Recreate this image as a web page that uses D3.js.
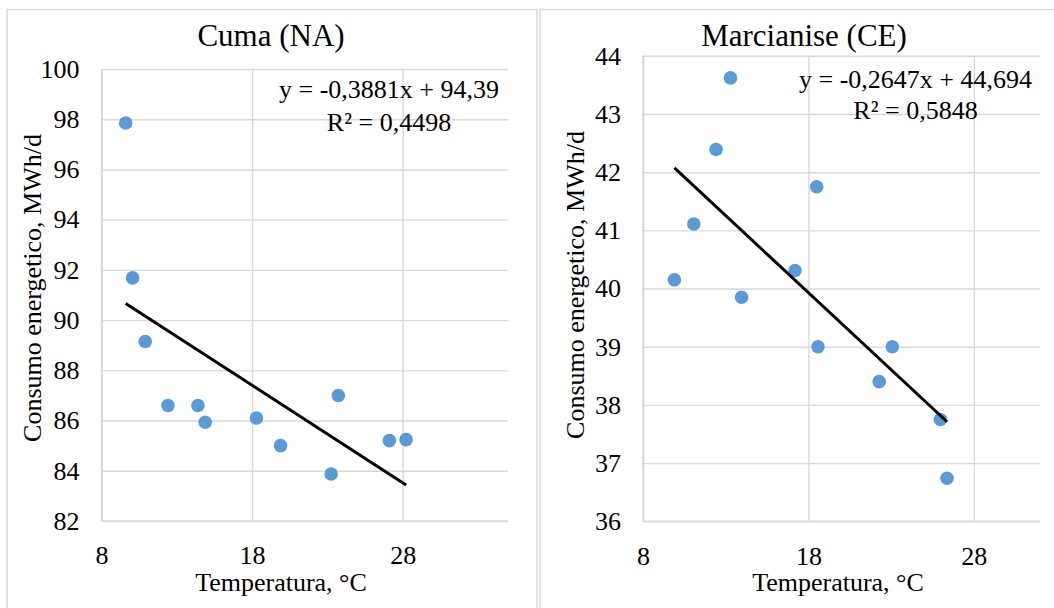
<!DOCTYPE html>
<html>
<head>
<meta charset="utf-8">
<script src="https://cdn.jsdelivr.net/npm/d3@7"></script>
<style>
  html, body { margin: 0; padding: 0; background: #fff; }
  svg { display: block; }
  svg text { font-family: "Liberation Serif", "Times New Roman", serif; }
</style>
</head>
<body>
<div class="chart-container"></div>
<script>
// Cuma (NA)
const cumaTemp = [9.6, 10.06, 10.9, 12.41, 14.4, 14.88, 18.29, 19.89, 23.25, 23.73, 27.12, 28.23];
const cumaCons = [97.85, 91.68, 89.15, 86.6, 86.6, 85.93, 86.1, 85.0, 83.87, 87.0, 85.2, 85.24];
const cumaYTicks = [82, 84, 86, 88, 90, 92, 94, 96, 98, 100];

// Marcianise (CE)
const marciTemp = [9.9, 11.07, 12.42, 13.29, 13.96, 17.19, 18.5, 18.58, 22.28, 23.07, 25.98, 26.38];
const marciCons = [40.15, 41.11, 42.39, 43.62, 39.85, 40.31, 41.75, 39.0, 38.4, 39.0, 37.75, 36.74];
const marciYTicks = [36, 37, 38, 39, 40, 41, 42, 43, 44];

const xTicks = [8, 18, 28];

const width = 1054;
const height = 608;
const font = '"Liberation Serif", "Times New Roman", serif';
const gridColor = '#d9d9d9';
const dotColor = '#5B9BD5';

const svg = d3.select('.chart-container')
  .append('svg')
  .attr('width', width)
  .attr('height', height)
  .attr('font-family', font);

function drawPanel(p) {
  const g = svg.append('g');

  // bordo del grafico
  g.append('rect')
    .attr('x', p.box[0]).attr('y', p.box[1])
    .attr('width', p.box[2]).attr('height', p.box[3])
    .attr('fill', 'none')
    .attr('stroke', gridColor)
    .attr('stroke-width', 1.5);

  const x = d3.scaleLinear().domain(p.xDomain).range([p.left, p.right]);
  const y = d3.scaleLinear().domain(p.yDomain).range([p.bottom, p.top]);

  // griglia orizzontale + etichette asse y
  const yAxis = g.append('g')
    .attr('transform', `translate(${p.left},0)`)
    .call(d3.axisLeft(y).tickValues(p.yTicks).tickSize(-(p.right - p.left)).tickPadding(22).tickFormat(d3.format('d')))
    .attr('font-family', font)
    .attr('font-size', 26);
  yAxis.select('.domain').remove();
  yAxis.selectAll('line').attr('stroke', gridColor).attr('stroke-width', 1.4);
  yAxis.selectAll('text').attr('fill', '#000');

  // griglia verticale + etichette asse x
  const xAxis = g.append('g')
    .attr('transform', `translate(0,${p.bottom})`)
    .call(d3.axisBottom(x).tickValues(xTicks).tickSize(-(p.bottom - p.top)).tickPadding(25))
    .attr('font-family', font)
    .attr('font-size', 26);
  xAxis.select('.domain').remove();
  xAxis.selectAll('line').attr('stroke', gridColor).attr('stroke-width', 1.4);
  xAxis.selectAll('text').attr('fill', '#000');

  // linee degli assi
  g.append('line')
    .attr('x1', p.left).attr('x2', p.right)
    .attr('y1', p.bottom).attr('y2', p.bottom)
    .attr('stroke', gridColor).attr('stroke-width', 1.6);
  g.append('line')
    .attr('x1', p.left).attr('x2', p.left)
    .attr('y1', p.top).attr('y2', p.bottom)
    .attr('stroke', gridColor).attr('stroke-width', 1.6);

  // punti
  const pts = p.temp.map((t, i) => ({ t, c: p.cons[i] }));
  g.selectAll('circle.dot')
    .data(pts)
    .join('circle')
      .attr('class', 'dot')
      .attr('cx', d => x(d.t))
      .attr('cy', d => y(d.c))
      .attr('r', 6.8)
      .attr('fill', dotColor);

  // linea di tendenza
  const [x0, x1] = d3.extent(p.temp);
  g.append('line')
    .attr('x1', x(x0)).attr('y1', y(p.slope * x0 + p.intercept))
    .attr('x2', x(x1)).attr('y2', y(p.slope * x1 + p.intercept))
    .attr('stroke', '#000')
    .attr('stroke-width', 3);

  // titolo
  g.append('text')
    .attr('x', p.titleX).attr('y', 45.5)
    .attr('text-anchor', 'middle')
    .attr('font-size', 31)
    .text(p.title);

  // equazione
  g.append('text')
    .attr('x', p.eqX).attr('y', p.eqY[0])
    .attr('text-anchor', 'middle')
    .attr('font-size', 26)
    .text(p.eq);
  g.append('text')
    .attr('x', p.eqX).attr('y', p.eqY[1])
    .attr('text-anchor', 'middle')
    .attr('font-size', 26)
    .text(p.r2);

  // titoli degli assi
  g.append('text')
    .attr('x', p.xTitleX).attr('y', 591)
    .attr('text-anchor', 'middle')
    .attr('font-size', 26)
    .text('Temperatura, °C');
  g.append('text')
    .attr('transform', `translate(${p.yTitleX},${p.yTitleY}) rotate(-90)`)
    .attr('text-anchor', 'middle')
    .attr('font-size', 26)
    .text('Consumo energetico, MWh/d');
}

drawPanel({
  box: [7, 9.5, 530, 640],
  left: 101.6, right: 508, top: 69, bottom: 521,
  xDomain: [8, 35], yDomain: [82, 100], yTicks: cumaYTicks,
  temp: cumaTemp, cons: cumaCons,
  slope: -0.3881, intercept: 94.39,
  title: 'Cuma (NA)', titleX: 271,
  eq: 'y = -0,3881x + 94,39', r2: 'R² = 0,4498', eqX: 389, eqY: [98, 131],
  xTitleX: 281, yTitleX: 41, yTitleY: 288
});

drawPanel({
  box: [540, 9.5, 528, 640],
  left: 643, right: 1040, top: 55.8, bottom: 521.3,
  xDomain: [8, 32], yDomain: [36, 44], yTicks: marciYTicks,
  temp: marciTemp, cons: marciCons,
  slope: -0.2647, intercept: 44.694,
  title: 'Marcianise (CE)', titleX: 804,
  eq: 'y = -0,2647x + 44,694', r2: 'R² = 0,5848', eqX: 915.5, eqY: [87.6, 118.6],
  xTitleX: 838, yTitleX: 584, yTitleY: 285
});
</script>
</body>
</html>
